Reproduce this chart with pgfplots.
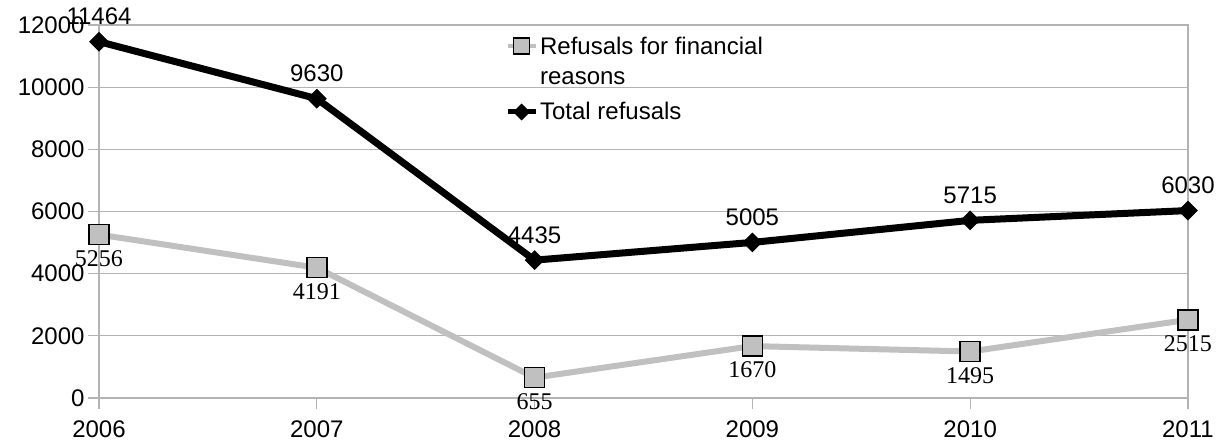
\documentclass[border=0pt]{standalone}
\usepackage{fontspec}
\setmainfont{Liberation Sans}
\newfontfamily\serifnums{Liberation Serif}
\usepackage{pgfplots}
\pgfplotsset{compat=1.18}
\definecolor{gridgray}{HTML}{B3B3B3}
\definecolor{fingray}{HTML}{C0C0C0}

\pgfplotstableread{
year refusals
2006 5256
2007 4191
2008 655
2009 1670
2010 1495
2011 2515
}\financial

\pgfplotstableread{
year refusals
2006 11464
2007 9630
2008 4435
2009 5005
2010 5715
2011 6030
}\total

\begin{document}
\begin{tikzpicture}
\useasboundingbox (0,0) rectangle (1219pt,446pt);
\begin{axis}[
  at={(99pt,48pt)}, anchor=south west,
  scale only axis, width=1089pt, height=373pt,
  xmin=2006, xmax=2011, ymin=0, ymax=12000,
  xtick={2006,2007,2008,2009,2010,2011},
  ytick={0,2000,4000,6000,8000,10000,12000},
  scaled ticks=false,
  /pgf/number format/1000 sep={},
  /pgf/number format/assume math mode=true,
  ymajorgrids,
  grid style={gridgray, line width=1.2pt},
  axis line style={gridgray, line width=1.2pt},
  tick style={gridgray, line width=1.2pt},
  tick align=outside, major tick length=11pt, tick pos=left,
  tick label style={font=\fontsize{24}{28}\selectfont, text=black},
  xticklabel style={yshift=-8pt},
  clip=false,
  legend cell align=left,
  legend image code/.code={
    \draw[mark repeat=2, mark phase=2, #1]
      plot coordinates {(0pt,0pt) (14pt,0pt) (28pt,0pt)};
  },
  legend style={
    draw=none, fill=none,
    at={(axis cs:2007.85,11760)}, anchor=north west,
    font=\fontsize{24}{30}\selectfont,
    row sep=43pt,
  },
]
\addplot[
  fingray, line width=6pt,
  mark=square*, mark size=10pt,
  mark options={fill=fingray, draw=black, line width=1.5pt},
  nodes near coords, nodes near coords align=below,
  every node near coord/.append style={
    font=\serifnums\fontsize{24}{28}\selectfont, text=black,
    anchor=north, inner sep=0pt, yshift=-15pt},
  legend image post style={line width=4pt, mark size=8pt},
] table[x=year, y=refusals] {\financial};
\addlegendentry{\vtop{\hbox{Refusals for financial}\hbox{reasons}}}

\addplot[
  black, line width=7pt,
  mark=square*, mark size=6.5pt,
  mark options={fill=black, draw=black, line width=1pt, rotate=45},
  nodes near coords, nodes near coords align=above,
  every node near coord/.append style={
    font=\fontsize{24}{28}\selectfont, text=black,
    anchor=south, inner sep=0pt, yshift=16pt},
  legend image post style={line width=5pt, mark size=5.5pt},
] table[x=year, y=refusals] {\total};
\addlegendentry{Total refusals}
\end{axis}
\end{tikzpicture}
\end{document}
